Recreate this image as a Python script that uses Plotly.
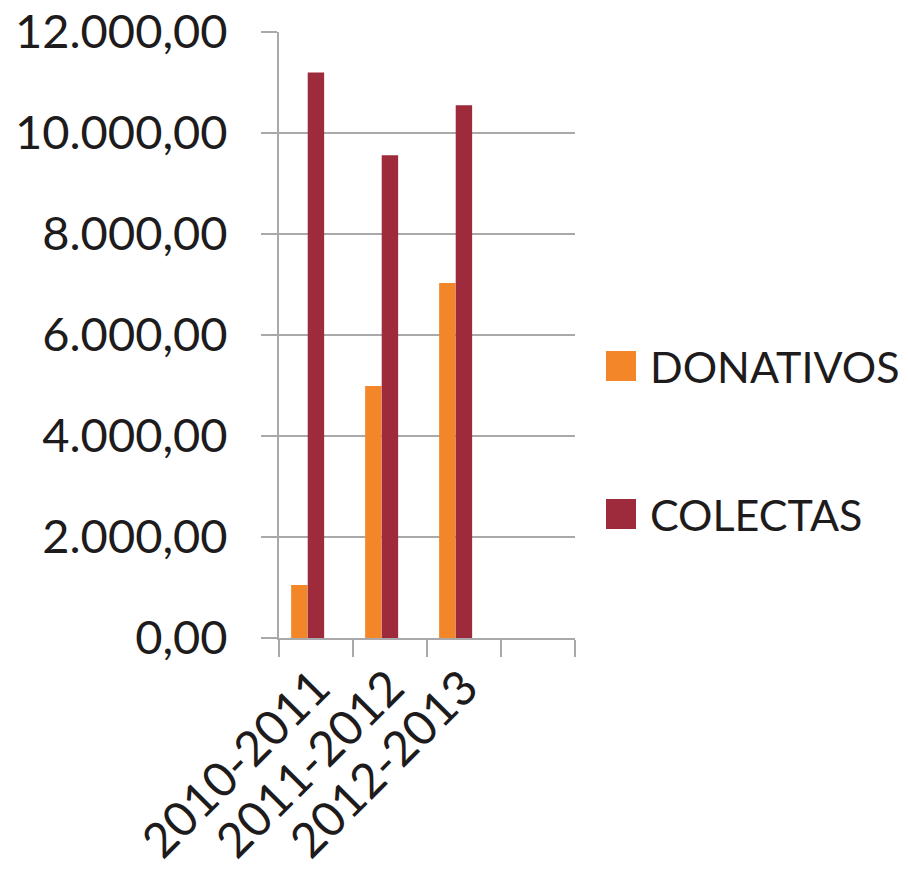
import plotly.graph_objects as go

categories = ["2010-2011", "2011-2012", "2012-2013", " "]
series_names = ["DONATIVOS", "COLECTAS"]
donativos = [1050, 4990, 7030, None]
colectas = [11200, 9560, 10550, None]
y_ticks = [0, 2000, 4000, 6000, 8000, 10000, 12000]

colors = ["#F4862A", "#9D2B3C"]
FONT = "Lato"
TXT = "#1e1b1c"
GRID = "#a9a9ab"

fig = go.Figure()
for vals, name, col, off in [(donativos, series_names[0], colors[0], -0.336),
                             (colectas, series_names[1], colors[1], -0.112)]:
    fig.add_trace(go.Bar(x=categories, y=vals, name=name, marker_color=col,
                         marker_line_width=0, width=0.222, offset=off,
                         showlegend=False))

# manual legend (large square keys like the original)
L, R, T, B = 279, 575, 32, 638
W, H = R - L, B - T
def px(x): return (x - L) / W
def py(y): return (B - y) / H

for i, (name, col) in enumerate(zip(series_names, colors)):
    cy = 366 + i * 148
    fig.add_shape(type="rect", xref="paper", yref="paper",
                  x0=px(606), x1=px(636), y0=py(cy - 15), y1=py(cy + 15),
                  fillcolor=col, line_width=0)
    fig.add_annotation(xref="paper", yref="paper", x=px(648), y=py(cy),
                       xanchor="left", yanchor="middle", text=name,
                       showarrow=False, font=dict(family=FONT, size=43, color=TXT))

fig.update_layout(
    width=908, height=872,
    margin=dict(l=L, r=908 - R, t=T, b=872 - B, autoexpand=False),
    plot_bgcolor="white", paper_bgcolor="white",
    separators=",.",
    barmode="overlay",
    font=dict(family=FONT, color=TXT),
)
fig.update_xaxes(
    type="category", categoryorder="array", categoryarray=categories,
    range=[-0.5, 3.5], tickson="boundaries", ticks="outside", ticklen=17,
    tickwidth=2, tickcolor=GRID, showline=True, linecolor=GRID, linewidth=2,
    showgrid=False, tickangle=-45, automargin=False,
    tickfont=dict(family=FONT, size=48, color=TXT),
)
fig.update_yaxes(
    range=[0, 12000], tickvals=y_ticks, tickformat=",.2f",
    ticks="outside", ticklen=16, tickwidth=2, tickcolor=GRID,
    showline=True, linecolor=GRID, linewidth=2, automargin=False,
    showgrid=True, gridcolor=GRID, gridwidth=2, zeroline=False,
    ticklabelstandoff=24, tickfont=dict(family=FONT, size=47, color=TXT),
)
fig.write_html("out.html", config={"displayModeBar": False},
               post_script="document.body.style.margin='0';document.body.style.overflow='hidden';")
